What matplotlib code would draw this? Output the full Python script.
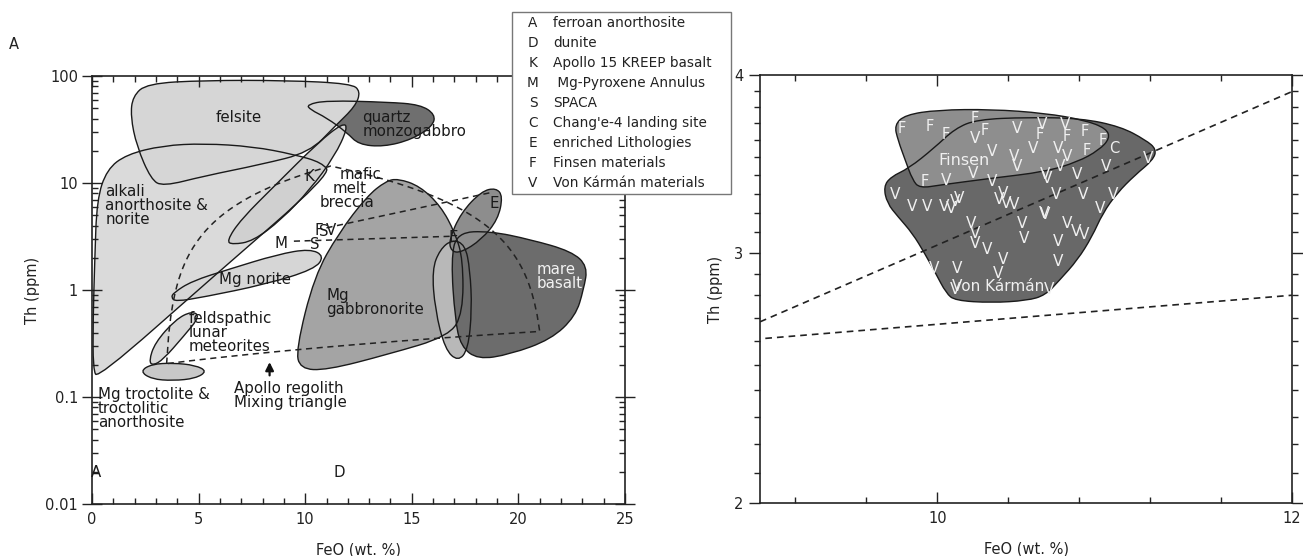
import matplotlib
matplotlib.use('Agg')
import matplotlib.pyplot as plt
import matplotlib.patches as mpatches
from matplotlib.path import Path
from matplotlib.ticker import NullFormatter
import numpy as np

# ---------------- panel A outlines: FeO (wt.%), Th (ppm) ----------------
alkali_feo = [0.13, 0.23, 0.7, 1.62, 3.33, 5.25, 7.55, 9.47, 10.8, 11.2, 5.7, 0.28, 0.05, 0.05]
alkali_th = [1.93, 7.0, 13.4, 18.5, 22.4, 23.4, 21.9, 18.5, 15.5, 12.0, 1.34, 0.149, 0.18, 0.53]

quartz_feo = [10.08, 11.0, 13.87, 15.4, 16.1, 15.98, 15.0, 13.68, 12.5, 11.96, 11.0, 10.23]
quartz_th = [54, 59, 57, 54, 43.7, 34, 25.5, 21.8, 22.9, 29.6, 40.7, 48.6]

felsite_feo = [1.81, 1.91, 2.58, 5.25, 9.09, 12.15, 12.6, 12.35, 11.4, 10.2, 7.93, 5.25, 3.33, 2.77, 2.1]
felsite_th = [42, 64.7, 85, 91, 91, 85, 72, 52, 34, 19.3, 14.9, 11.6, 9.3, 10.8, 22]

kreep_feo = [6.31, 6.98, 8.7, 10.6, 11.77, 12.0, 11.38, 10.23, 8.89, 7.55, 6.6]
kreep_th = [2.86, 4.56, 10.0, 23.8, 36.5, 32.8, 17.8, 8.7, 4.56, 2.86, 2.66]

norite_feo = [3.82, 4.68, 6.41, 8.7, 10.23, 10.9, 10.43, 8.13, 5.25, 3.92, 3.72]
norite_th = [0.94, 1.21, 1.56, 2.15, 2.43, 2.07, 1.56, 1.13, 0.86, 0.78, 0.85]

flm_feo = [4.68, 5.07, 4.3, 3.34, 2.86, 2.67, 2.95, 3.92]
flm_th = [0.634, 0.569, 0.37, 0.224, 0.197, 0.216, 0.321, 0.53]

troct_feo = [2.25, 2.8, 3.8, 4.85, 5.4, 4.85, 3.8, 2.8]
troct_th = [0.174, 0.203, 0.208, 0.198, 0.174, 0.149, 0.142, 0.147]

gabbro_feo = [14.35, 15.38, 16.36, 17.03, 17.4, 17.4, 16.75, 13.87, 11.0, 9.76, 9.57, 10.43, 11.58, 12.9, 13.78]
gabbro_th = [11.0, 9.34, 6.07, 3.42, 1.93, 0.612, 0.37, 0.25, 0.178, 0.183, 0.278, 1.35, 3.42, 7.53, 10.4]

lens_feo = [16.32, 16.89, 17.5, 17.73, 17.82, 17.64, 17.17, 16.56, 16.09, 15.95]
lens_th = [2.39, 2.96, 2.66, 1.55, 0.657, 0.278, 0.215, 0.278, 0.657, 1.55]

mare_feo = [17.12, 18.67, 20.57, 22.49, 23.25, 23.06, 22.68, 21.53, 19.6, 18.09, 17.3, 17.03, 16.84]
mare_th = [3.45, 3.55, 2.96, 2.3, 1.67, 1.01, 0.569, 0.345, 0.25, 0.224, 0.298, 0.53, 1.93]

enr_feo = [16.75, 17.31, 18.27, 18.95, 19.27, 19.04, 18.27, 17.31, 16.84]
enr_th = [2.96, 5.27, 8.38, 9.0, 7.53, 4.56, 2.96, 2.23, 2.3]

# Apollo regolith mixing triangle (end members) and other mixing lines
tri_feo = [3.5, 11.2, 21.0]
tri_th = [0.205, 14.4, 0.41]
mix1_feo = [9.47, 16.93]
mix1_th = [2.86, 3.18]
mix2_feo = [11.0, 18.66]
mix2_th = [3.81, 8.1]

# ---------------- panel B ----------------
vk_feo = [9.697, 9.738, 9.839, 9.981, 10.10, 10.224, 10.507, 10.811, 11.034, 11.175, 11.236, 11.216,
          11.115, 11.013, 10.933, 10.872, 10.791, 10.69, 10.609, 10.507, 10.305, 10.10, 10.05, 9.99,
          9.929, 9.86, 9.778, 9.717]
vk_th = [3.338, 3.392, 3.439, 3.553, 3.668, 3.722, 3.735, 3.729, 3.679, 3.60, 3.547, 3.485,
         3.402, 3.303, 3.198, 3.078, 2.965, 2.87, 2.80, 2.776, 2.766, 2.776, 2.809, 2.902,
         2.996, 3.095, 3.18, 3.25]

fin_feo = [9.758, 9.819, 10.001, 10.305, 10.609, 10.831, 10.953, 10.973, 10.912, 10.791, 10.609,
           10.305, 10.021, 9.90, 9.86, 9.819, 9.778]
fin_th = [3.689, 3.75, 3.78, 3.784, 3.76, 3.718, 3.668, 3.61, 3.542, 3.475, 3.42,
          3.384, 3.348, 3.33, 3.375, 3.485, 3.60]

lineB1_feo = [9.0, 12.0]
lineB1_th = [2.682, 3.894]
lineB2_feo = [9.03, 12.0]
lineB2_th = [2.611, 2.80]

f_feo = [9.80, 9.96, 10.05, 10.21, 10.27, 10.58, 10.73, 10.83, 10.93, 10.84, 9.93]
f_th = [3.669, 3.679, 3.63, 3.729, 3.659, 3.63, 3.62, 3.65, 3.60, 3.542, 3.365]

v_feo = [10.21, 10.45, 10.59, 10.72, 10.54, 10.31, 10.43, 10.45, 10.68, 10.73, 10.69, 10.95, 10.79,
         10.20, 10.31, 10.05, 10.61, 10.62, 9.76, 9.86, 9.94, 10.04, 10.08, 10.10, 10.12, 10.37,
         10.35, 10.39, 10.43, 10.67, 10.82, 10.99, 10.92, 10.60, 10.61, 10.19, 10.21, 10.21, 10.48,
         10.49, 10.73, 10.78, 10.83, 10.68, 10.28, 10.37, 9.98, 10.11, 10.34, 10.68, 10.10, 10.63, 11.19]
v_th = [3.61, 3.669, 3.689, 3.689, 3.552, 3.533, 3.504, 3.448, 3.552, 3.504, 3.448, 3.448, 3.402,
        3.411, 3.365, 3.374, 3.402, 3.384, 3.294, 3.232, 3.232, 3.232, 3.223, 3.258, 3.276, 3.302,
        3.267, 3.249, 3.241, 3.294, 3.294, 3.294, 3.223, 3.197, 3.189, 3.146, 3.096, 3.046, 3.146,
        3.071, 3.146, 3.104, 3.087, 3.054, 3.013, 2.965, 2.925, 2.925, 2.901, 2.957, 2.824, 2.824, 3.495]

legend_keys = ['A', 'D', 'K', 'M', 'S', 'C', 'E', 'F', 'V']
legend_names = ['ferroan anorthosite', 'dunite', 'Apollo 15 KREEP basalt', ' Mg-Pyroxene Annulus',
                'SPACA', "Chang'e-4 landing site", 'enriched Lithologies', 'Finsen materials',
                'Von Kármán materials']


def blob_path(xs, ys):
    # closed quadratic B-spline path, midpoints taken in log space for y
    x = np.asarray(xs, float)
    y = np.asarray(ys, float)
    mx = (x + np.roll(x, -1)) / 2
    my = np.sqrt(y * np.roll(y, -1))
    verts = [(mx[-1], my[-1])]
    codes = [Path.MOVETO]
    for i in range(len(x)):
        verts += [(x[i], y[i]), (mx[i], my[i])]
        codes += [Path.CURVE3, Path.CURVE3]
    verts.append((mx[-1], my[-1]))
    codes.append(Path.CLOSEPOLY)
    return Path(verts, codes)


def draw_blobs(ax, shapes):
    for z, (xs, ys, col) in enumerate(shapes):
        ax.add_patch(mpatches.PathPatch(blob_path(xs, ys), fc=col, ec='none', zorder=1 + z * 0.01))
    for xs, ys, col in shapes:
        ax.add_patch(mpatches.PathPatch(blob_path(xs, ys), fc='none', ec='#1a1a1a', lw=1.0, zorder=2))


fig = plt.figure(figsize=(13.03, 5.56), dpi=100)
axA = fig.add_axes([92 / 1303, 52 / 556, 533 / 1303, 428 / 556])
axB = fig.add_axes([760 / 1303, 53 / 556, 532 / 1303, 428 / 556])

# ---------------- panel A ----------------
axA.set_yscale('log')
axA.set_xlim(0, 25)
axA.set_ylim(0.01, 100)

draw_blobs(axA, [
    (alkali_feo, alkali_th, '#dadada'),
    (quartz_feo, quartz_th, '#6f6f6f'),
    (felsite_feo, felsite_th, '#d6d6d6'),
    (kreep_feo, kreep_th, '#d0d0d0'),
    (norite_feo, norite_th, '#d6d6d6'),
    (flm_feo, flm_th, '#d8d8d8'),
    (troct_feo, troct_th, '#c8c8c8'),
    (gabbro_feo, gabbro_th, '#a4a4a4'),
    (lens_feo, lens_th, '#b8b8b8'),
    (mare_feo, mare_th, '#6c6c6c'),
    (enr_feo, enr_th, '#8d8d8d'),
])

tri = Path(list(zip(tri_feo + tri_feo[:1], tri_th + tri_th[:1]))).interpolated(80)
axA.plot(tri.vertices[:, 0], tri.vertices[:, 1], ls=(0, (4, 3)), color='#222', lw=1.1, zorder=3)
axA.plot(mix1_feo, mix1_th, ls=(0, (4, 3)), color='#222', lw=1.1, zorder=3)
axA.plot(mix2_feo, mix2_th, ls=(0, (4, 3)), color='#222', lw=1.1, zorder=3)

axA.annotate('', xy=(8.33, 0.225), xytext=(8.33, 0.15),
             arrowprops=dict(arrowstyle='-|>', color='#111', lw=1.6, mutation_scale=12), zorder=4)

fs = 10.8
kw = dict(fontsize=fs, color='#1a1a1a', zorder=4, linespacing=0.9)
axA.text(6.89, 40.7, 'felsite', ha='center', va='center', **kw)
axA.text(12.68, 35, 'quartz\nmonzogabbro', ha='left', va='center', **kw)
axA.text(10.18, 11.4, 'K', ha='center', va='center', **kw)
axA.text(11.61, 12.0, 'mafic', ha='left', va='center', **kw)
axA.text(11.29, 8.8, 'melt', ha='left', va='center', **kw)
axA.text(10.68, 6.53, 'breccia', ha='left', va='center', **kw)
axA.text(0.62, 6.2, 'alkali\nanorthosite &\nnorite', ha='left', va='center', **kw)
axA.text(18.89, 6.5, 'E', ha='center', va='center', **kw)
axA.text(16.93, 3.07, 'E', ha='center', va='center', **kw)
axA.text(8.86, 2.72, 'M', ha='center', va='center', **kw)
axA.text(10.43, 2.66, 'S', ha='center', va='center', **kw)
axA.text(10.62, 3.6, 'F', ha='center', va='center', **kw)
axA.text(10.85, 3.55, 'S', ha='center', va='center', **kw)
axA.text(11.2, 3.6, 'V', ha='center', va='center', **kw)
axA.text(7.65, 1.25, 'Mg norite', ha='center', va='center', **kw)
axA.text(20.86, 1.33, 'mare\nbasalt', ha='left', va='center', fontsize=fs, color='#f2f2f2',
         zorder=4, linespacing=0.9)
axA.text(11.0, 0.77, 'Mg\ngabbronorite', ha='left', va='center', **kw)
axA.text(4.53, 0.4, 'feldspathic\nlunar\nmeteorites', ha='left', va='center', **kw)
axA.text(6.64, 0.104, 'Apollo regolith\nMixing triangle', ha='left', va='center', **kw)
axA.text(0.28, 0.078, 'Mg troctolite &\ntroctolitic\nanorthosite', ha='left', va='center', **kw)
axA.text(0.19, 0.0198, 'A', ha='center', va='center', **kw)
axA.text(11.58, 0.0198, 'D', ha='center', va='center', **kw)

axA.set_xticks([0, 5, 10, 15, 20, 25], ['0', '5', '10', '15', '20', '25'])
axA.set_xticks(list(range(0, 26)), minor=True)
axA.set_yticks([0.01, 0.1, 1, 10, 100], ['0.01', '0.1', '1', '10', '100'])
axA.yaxis.set_minor_formatter(NullFormatter())
axA.tick_params(which='both', top=True, right=True, labelsize=10.5, colors='#222', width=1.0)
axA.tick_params(axis='x', which='major', direction='in', length=8, pad=6)
axA.tick_params(axis='x', which='minor', direction='in', length=4)
axA.tick_params(axis='y', which='major', direction='inout', length=14, pad=3)
axA.tick_params(axis='y', which='minor', direction='in', length=4)
axA.set_xlabel('FeO (wt. %)', fontsize=10.5, color='#222', labelpad=11)
axA.set_ylabel('Th (ppm)', fontsize=10.5, color='#222', labelpad=4)

# ---------------- panel B ----------------
axB.set_yscale('log')
axB.set_xlim(9, 12)
axB.set_ylim(2, 4)

draw_blobs(axB, [
    (vk_feo, vk_th, '#686868'),
    (fin_feo, fin_th, '#8e8e8e'),
])

axB.plot(lineB1_feo, lineB1_th, ls=(0, (4, 3)), color='#222', lw=1.2, zorder=3)
axB.plot(lineB2_feo, lineB2_th, ls=(0, (4, 3)), color='#222', lw=1.2, zorder=3)

for x, y in zip(f_feo, f_th):
    axB.text(x, y, 'F', fontsize=10.5, color='#f0f0f0', ha='center', va='center', zorder=4)
for x, y in zip(v_feo, v_th):
    axB.text(x, y, 'V', fontsize=11, color='#f0f0f0', ha='center', va='center', zorder=4)
axB.text(11.0, 3.552, 'C', fontsize=10.5, color='#f0f0f0', ha='center', va='center', zorder=4)
axB.text(10.15, 3.485, 'Finsen', fontsize=11.5, color='#f0f0f0', ha='center', va='center', zorder=4)
axB.text(10.345, 2.839, 'Von Kármán', fontsize=11, color='#f0f0f0', ha='center', va='center', zorder=4)

axB.set_xticks([10, 12], ['10', '12'])
axB.set_xticks([9.2, 9.6, 10.4, 10.8, 11.2, 11.6], minor=True)
axB.set_yticks([2, 3, 4], ['2', '3', '4'])
axB.set_yticks([2.1, 2.2, 2.3, 2.4, 2.5, 2.6, 2.7, 2.8, 2.9, 3.1, 3.2, 3.3, 3.4, 3.5, 3.6, 3.7, 3.8, 3.9],
               minor=True)
axB.yaxis.set_minor_formatter(NullFormatter())
axB.tick_params(which='both', top=True, right=True, labelsize=10.5, colors='#222', width=1.0)
axB.tick_params(axis='x', which='major', direction='in', length=8, pad=6)
axB.tick_params(axis='x', which='minor', direction='in', length=4)
axB.tick_params(axis='y', which='major', direction='out', length=8, pad=4)
axB.tick_params(axis='y', which='minor', direction='out', length=4)
axB.set_xlabel('FeO (wt. %)', fontsize=10.5, color='#222', labelpad=11)
axB.set_ylabel('Th (ppm)', fontsize=10.5, color='#222', labelpad=8)

for ax in (axA, axB):
    for sp in ax.spines.values():
        sp.set_linewidth(1.2)
        sp.set_color('#222')

fig.text(14 / 1303, 1 - 45 / 556, 'A', fontsize=10.5, ha='center', va='center', color='#222')
fig.text(690 / 1303, 1 - 45 / 556, 'B', fontsize=10.5, ha='center', va='center', color='#222')

# legend box
fig.add_artist(mpatches.Rectangle((512 / 1303, 1 - 194 / 556), 219 / 1303, 182 / 556,
                                  transform=fig.transFigure, fc='white', ec='#777', lw=1.0, zorder=10))
for i, (k, name) in enumerate(zip(legend_keys, legend_names)):
    yy = 1 - (23 + 20 * i) / 556
    fig.text(533 / 1303, yy, k, fontsize=9.8, ha='center', va='center', color='#222', zorder=11)
    fig.text(553 / 1303, yy, name, fontsize=9.8, ha='left', va='center', color='#222', zorder=11)

fig.savefig('out.png', dpi=100)
